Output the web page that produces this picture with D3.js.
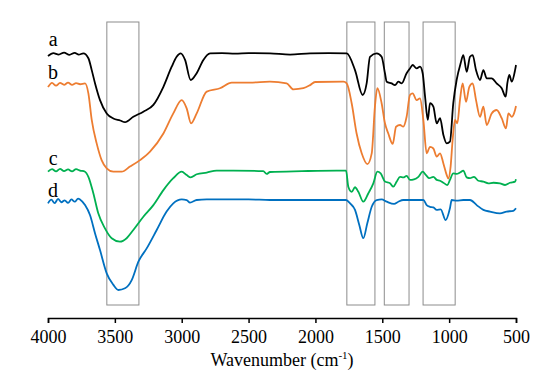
<!DOCTYPE html>
<html>
<head>
<meta charset="utf-8">
<script src="https://cdn.jsdelivr.net/npm/d3@7"></script>
<style>
  body { margin: 0; background: #fff; }
  text { font-family: "Liberation Serif", "DejaVu Serif", "Times New Roman", serif !important; }
</style>
</head>
<body>
<div id="chart"></div>
<script>
// Spectra: [wavenumber, relative transmittance]
const seriesA = [
  [4000,88],[3960,89],[3920,88.5],[3880,89.2],[3840,88.4],[3800,89.1],[3770,88.5],[3736,88.9],
  [3698,87.2],[3673,83],[3648,78.3],[3611,72.4],[3561,67.7],[3511,65.9],[3460,65.2],[3424,64.6],
  [3362,66.5],[3287,68.3],[3212,70.7],[3137,77.1],[3075,84.2],[3038,87.7],[3008,88.9],[2975,86.6],
  [2933,79.5],[2888,81.9],[2838,86.6],[2788,88.9],[2700,89],[2600,88.8],[2500,89],[2340,88.9],
  [2190,88.5],[2040,88.9],[1900,89],[1766,88.9],[1704,83],[1647,74.2],[1617,78.3],[1592,87.7],
  [1542,88.9],[1505,87.7],[1480,81.9],[1467,78.9],[1430,78.3],[1405,77.7],[1380,78.9],[1355,78.3],
  [1318,81.9],[1293,83.6],[1273,84.8],[1243,83.6],[1218,84.2],[1198,81.9],[1180,73.6],[1160,65.4],
  [1143,71.3],[1118,70.1],[1093,64.2],[1068,66],[1043,60.1],[1018,57.1],[994,57.7],[969,71.3],
  [944,79.5],[914,85.4],[894,88.3],[869,82.4],[844,87.7],[824,88.3],[799,83],[769,79.5],
  [744,83],[719,80.1],[682,80.1],[645,78.3],[607,76.6],[577,73.6],[565,78.3],[550,81.3],
  [532,78.9],[507,83],[500,84.8]
];
const seriesB = [
  [4000,77],[3970,78.5],[3940,77.5],[3910,78.5],[3880,77.8],[3850,78.6],[3820,77.8],[3790,78.4],
  [3760,78],[3723,78.3],[3698,74.8],[3673,65.4],[3636,57.1],[3599,51.2],[3561,48.3],[3511,47.1],
  [3449,47.1],[3387,48.9],[3312,51.2],[3237,54.2],[3137,60.6],[3063,67.7],[3000,72.4],[2963,69.5],
  [2930,64.2],[2888,67.7],[2813,75.4],[2714,76.6],[2626,78.6],[2489,78.6],[2340,78.9],[2215,78.3],
  [2165,76.2],[2090,76.6],[2040,77.7],[2003,78.8],[1791,78.9],[1766,78.3],[1729,71.3],[1692,60.6],
  [1654,53.6],[1612,49.8],[1579,53.6],[1555,70.1],[1537,76.6],[1505,71.3],[1480,64.2],[1455,60.6],
  [1422,56.9],[1397,63],[1367,63.6],[1343,63],[1318,66.5],[1293,74.2],[1273,74.8],[1243,72.4],
  [1218,73],[1193,65.4],[1168,53.6],[1143,55.9],[1118,55.3],[1093,52.4],[1068,53.6],[1043,50],
  [1018,45.9],[1006,44.7],[989,48.9],[974,58.3],[956,65.4],[939,64.2],[919,72.4],[899,78.3],
  [874,71.8],[849,77.1],[824,78.3],[799,72.4],[769,66.5],[744,70.1],[719,63.6],[682,67.7],
  [645,68.9],[607,66],[575,62.4],[557,67.7],[532,66.5],[507,68.9],[500,70.3]
];
const seriesC = [
  [4000,47.1],[3970,48],[3940,47.2],[3910,48.1],[3880,47.3],[3850,47.9],[3820,47.2],[3790,48],
  [3760,47.5],[3723,47.1],[3698,45.3],[3661,39.5],[3624,32.4],[3574,27.1],[3524,23.6],[3462,22.4],
  [3412,23.6],[3362,26.5],[3287,31.2],[3212,35.3],[3137,40.6],[3063,44.8],[3000,47.1],[2963,45.9],
  [2933,45.1],[2888,46.2],[2813,46.8],[2739,47.5],[2614,47.5],[2390,47.3],[2365,46.3],[2340,47],
  [2100,47.3],[1841,47.5],[1771,47.5],[1754,41.8],[1729,40],[1704,41.6],[1679,40],[1642,36.5],
  [1604,39.5],[1567,43],[1537,47.1],[1512,46.5],[1480,43.6],[1442,43],[1417,41.8],[1392,43.6],
  [1367,45.3],[1343,45.1],[1318,45.6],[1293,44.2],[1263,44.4],[1230,45.3],[1198,47.1],[1173,45.9],
  [1148,44.8],[1118,45.3],[1093,44.2],[1068,43.9],[1043,43.2],[1013,42.4],[994,44.2],[969,46.5],
  [944,46.3],[919,46.8],[894,47.5],[869,45.1],[844,44.8],[814,45.3],[782,43.9],[744,43.6],
  [707,43],[669,43.2],[620,43],[582,42.4],[545,43.2],[507,43.6],[500,44.4]
];
const seriesD = [
  [4000,35.9],[3975,37.2],[3950,36],[3925,37.5],[3900,36.3],[3875,37],[3850,36.1],[3825,37.3],
  [3800,36.5],[3775,37.6],[3761,37.3],[3723,35.3],[3686,31.8],[3648,25.3],[3611,19.4],[3561,11.2],
  [3511,7.1],[3474,5.3],[3424,5.9],[3374,8.8],[3324,15.3],[3262,20],[3187,26.5],[3113,33],
  [3063,35.9],[3000,37.3],[2963,37.1],[2938,36.2],[2888,37.1],[2813,37.3],[2500,37.3],[2340,37.1],
  [1771,37.1],[1741,35.9],[1704,33.6],[1672,28.3],[1642,23.6],[1612,28.9],[1579,34.7],[1542,37.1],
  [1505,37.3],[1467,36.5],[1412,35.7],[1380,36.5],[1343,37.1],[1193,37.1],[1168,35.3],[1143,34.7],
  [1118,34.5],[1093,33.6],[1063,33.8],[1026,30],[994,34.2],[981,37.1],[944,36.9],[894,37.1],
  [844,37.1],[794,35.3],[744,33.6],[694,33],[620,32.4],[570,33],[520,33.3],[500,34.2]
];

const seriesNames = ["a", "b", "c", "d"];
const seriesColors = ["#000000", "#ED7D31", "#00B050", "#0070C0"];
const labelValues = [91.5, 79.8, 49.5, 38.3];

// highlighted bands [from, to] in cm-1
const bands = [[3560, 3320], [1765, 1555], [1485, 1300], [1195, 955]];

const xTicks = [4000, 3500, 3000, 2500, 2000, 1500, 1000, 500];

const width = 553, height = 383;
const serif = "'Liberation Serif', 'DejaVu Serif', 'Times New Roman', serif";

const svg = d3.select("#chart").append("svg")
  .attr("width", width)
  .attr("height", height)
  .style("display", "block");

const x = d3.scaleLinear().domain([4000, 500]).range([48, 516]);
const y = d3.scaleLinear().domain([0, 100]).range([305, 22]);

// Bands
svg.selectAll("rect.band")
  .data(bands)
  .enter()
  .append("rect")
  .attr("class", "band")
  .attr("x", d => x(d[0]))
  .attr("width", d => x(d[1]) - x(d[0]))
  .attr("y", y(100))
  .attr("height", y(0) - y(100))
  .attr("fill", "none")
  .attr("stroke", "#8c8c8c")
  .attr("stroke-width", 1);

// Spectra
const line = d3.line()
  .x(d => x(d[0]))
  .y(d => y(d[1]))
  .curve(d3.curveMonotoneX);

const allSeries = [seriesA, seriesB, seriesC, seriesD];

svg.selectAll("path.spec")
  .data(allSeries)
  .enter()
  .append("path")
  .attr("class", "spec")
  .attr("d", d => line(d.slice().reverse()))
  .attr("fill", "none")
  .attr("stroke", (d, i) => seriesColors[i])
  .attr("stroke-width", 1.8)
  .attr("stroke-linejoin", "round");

// Curve labels
svg.selectAll("text.lbl")
  .data(seriesNames)
  .enter()
  .append("text")
  .attr("class", "lbl")
  .attr("x", x(3962))
  .attr("y", (d, i) => y(labelValues[i]))
  .attr("text-anchor", "middle")
  .style("font-family", serif)
  .style("font-size", "20px")
  .attr("fill", "#000")
  .text(d => d);

// X axis
const axisY = 318;
const xAxis = svg.append("g")
  .attr("transform", `translate(0,${axisY})`)
  .call(d3.axisBottom(x).tickValues(xTicks).tickSize(5).tickSizeOuter(5).tickFormat(d3.format("d")));

xAxis.attr("font-family", null);
xAxis.select(".domain").attr("stroke", "#000").attr("stroke-width", 1.5);
xAxis.selectAll(".tick line").attr("stroke", "#000").attr("stroke-width", 1.5);
xAxis.selectAll(".tick text")
  .attr("y", 25)
  .attr("dy", null)
  .attr("fill", "#000")
  .style("font-family", serif)
  .style("font-size", "18px");

// Axis title
const title = svg.append("text")
  .attr("x", (x(4000) + x(500)) / 2)
  .attr("y", 366)
  .attr("text-anchor", "middle")
  .style("font-family", serif)
  .style("font-size", "18px")
  .attr("fill", "#000");
title.append("tspan").text("Wavenumber (cm");
title.append("tspan").style("font-size", "11px").attr("dy", -7).text("-1");
title.append("tspan").attr("dy", 7).text(")");
</script>
</body>
</html>
